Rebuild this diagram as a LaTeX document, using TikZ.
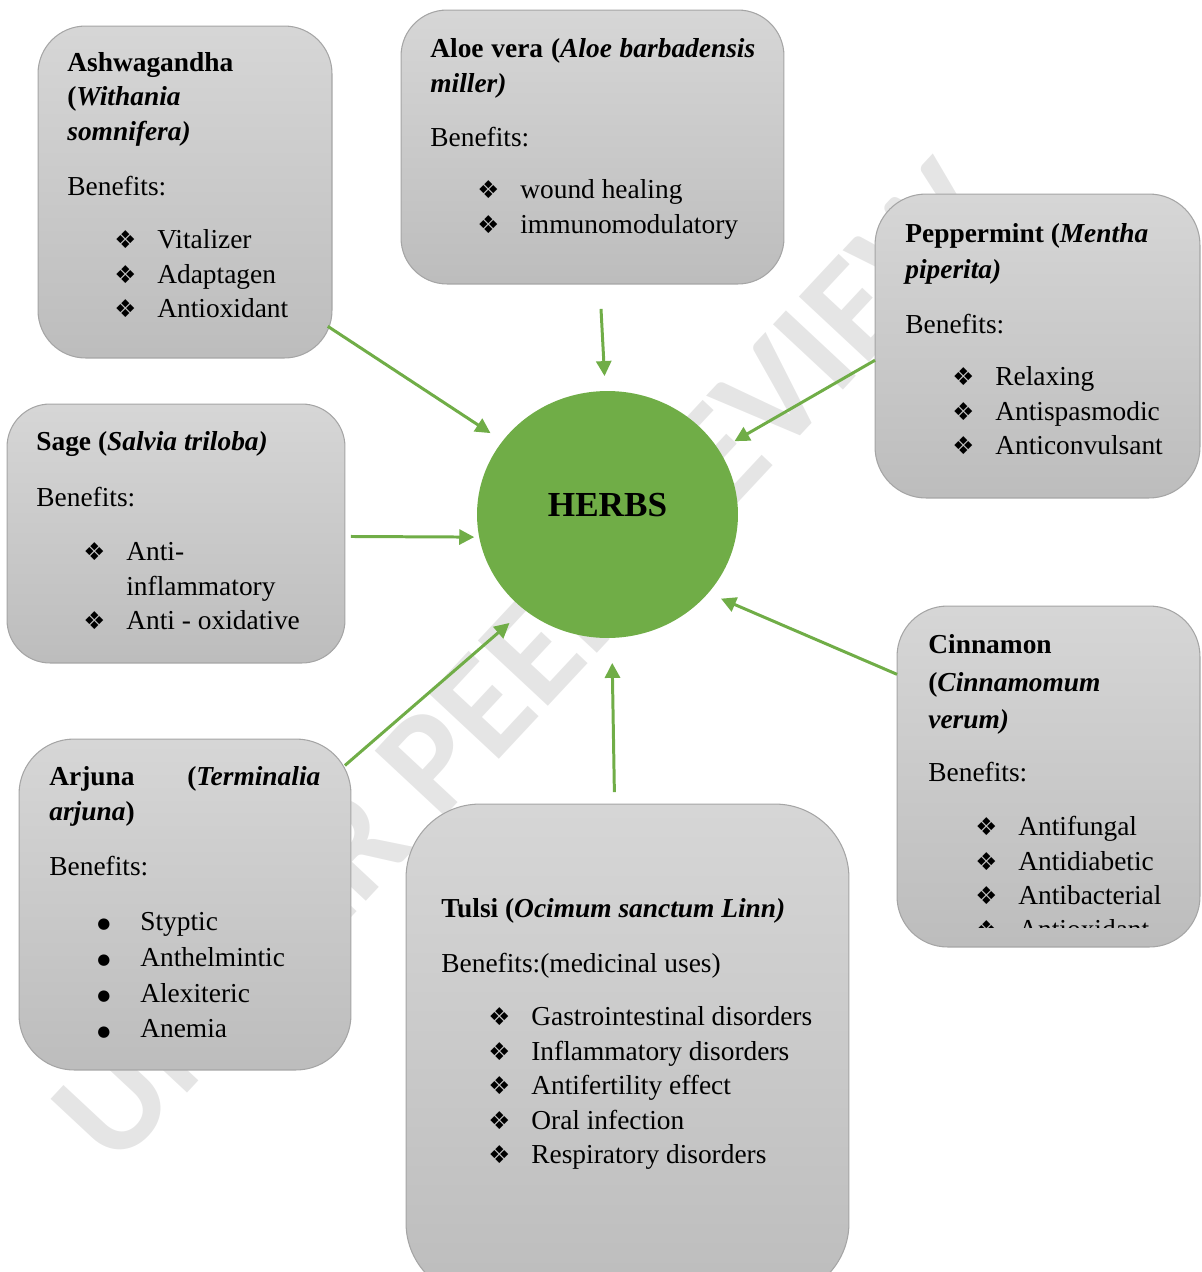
\documentclass[tikz,border=0pt]{standalone}
\usepackage{fontspec}
\setmainfont{Liberation Serif}
\newfontfamily\symfont{DejaVu Sans}
\newfontfamily\markfont{Carlito}
\usetikzlibrary{positioning,arrows.meta,shapes.geometric}
\definecolor{herbgreen}{RGB}{112,173,71}
\definecolor{boxline}{RGB}{165,165,165}
\tikzset{
    x=0.02cm,
    y=-0.02cm,
    herbbox/.style = {
        draw=boxline,
        shape=rectangle,
        line width=0.6pt,
        rounded corners=0.95cm,
        top color=black!16,
        bottom color=black!26,
        inner sep=0pt,
        outer sep=0pt
    },
    herbtext/.style = {
        anchor=north west,
        inner sep=0pt,
        align=left,
        font=\fontsize{15.6}{19.6}\selectfont
    },
    link/.style = {
        draw=herbgreen,
        line width=1.7pt,
        ->
    },
    >={Triangle[length=0.3cm,width=0.3cm]},
}
% first line strut, list items
\newcommand{\fl}{\rule{0pt}{0.5cm}}
\newcommand{\itm}[1]{\hspace*{0.94cm}\makebox[0.86cm][l]{\symfont\fontsize{14}{14}\selectfont ❖}#1}
\newcommand{\bitm}[1]{\hspace*{0.96cm}\makebox[0.86cm][l]{\raisebox{0.03cm}{\symfont\fontsize{8.5}{8.5}\selectfont ●}}#1}

\begin{document}
\begin{tikzpicture}
    \useasboundingbox (0,0) rectangle (1201,1272);
    \clip (0,0) rectangle (1201,1272);

    \node[rotate=47, text=black!10, font=\markfont\bfseries\fontsize{84}{84}\selectfont] (mark) at (525,662) {UNDER PEER REVIEW};

    \node[herbbox, minimum width=5.88cm, minimum height=6.64cm] (ashwa) at (185,192) {};
    \node[herbbox, minimum width=7.66cm, minimum height=5.48cm, rounded corners=0.92cm] (aloe) at (592.5,147) {};
    \node[herbbox, minimum width=6.5cm, minimum height=6.08cm, rounded corners=1.02cm] (pepper) at (1037.5,346) {};
    \node[herbbox, minimum width=6.76cm, minimum height=5.18cm, rounded corners=0.86cm] (sage) at (176,533.5) {};
    \node[herbbox, minimum width=6.06cm, minimum height=6.82cm, rounded corners=1.01cm] (cinna) at (1048.5,776.5) {};
    \node[herbbox, minimum width=6.64cm, minimum height=6.62cm, rounded corners=1.1cm] (arjuna) at (185,904.5) {};
    \node[herbbox, minimum width=8.86cm, minimum height=9.86cm, rounded corners=1.48cm] (tulsi) at (627.5,1050.5) {};
    \node[ellipse, fill=herbgreen, minimum width=5.22cm, minimum height=4.94cm, inner sep=0pt, outer sep=0pt] (herbs) at (607.5,514.5) {};
    \node[font=\fontsize{20}{20}\selectfont\bfseries] (herbslabel) at ([yshift=0.19cm]herbs.center) {HERBS};

    \node[herbtext] (ashwatext) at (67,46) {\fl\textbf{Ashwagandha}\\
        \textbf{(\textit{Withania}}\\
        \textbf{\textit{somnifera)}}\\[0.41cm]
        Benefits:\\[0.38cm]
        \itm{Vitalizer}\\
        \itm{Adaptagen}\\
        \itm{Antioxidant}};
    \node[herbtext] (aloetext) at (430,32) {\fl\makebox[6.5cm][s]{\textbf{Aloe vera (\textit{Aloe barbadensis}}}\\[0.02cm]
        \textbf{\textit{miller)}}\\[0.39cm]
        Benefits:\\[0.35cm]
        \itm{wound healing}\\
        \itm{immunomodulatory}};
    \node[herbtext] (peppertext) at (905,217) {\fl\textbf{Peppermint (\textit{Mentha}}\\[0.03cm]
        \textbf{\textit{piperita)}}\\[0.41cm]
        Benefits:\\[0.36cm]
        \itm{Relaxing}\\
        \itm{Antispasmodic}\\
        \itm{Anticonvulsant}};
    \node[herbtext] (sagetext) at (36,425) {\fl\textbf{Sage (\textit{Salvia triloba)}}\\[0.43cm]
        Benefits:\\[0.4cm]
        \itm{Anti-}\\
        \hspace*{1.8cm}inflammatory\\
        \itm{Anti - oxidative}};
    \begin{scope}
        \clip (880,600) rectangle (1201,927);
        \node[herbtext] (cinnatext) at (928,628) {\fl\textbf{Cinnamon}\\[0.08cm]
            \textbf{(\textit{Cinnamomum}}\\[0.04cm]
            \textbf{\textit{verum)}}\\[0.37cm]
            Benefits:\\[0.4cm]
            \itm{Antifungal}\\
            \itm{Antidiabetic}\\
            \itm{Antibacterial}\\
            \itm{Antioxidant}};
    \end{scope}
    \node[herbtext] (arjunatext) at (49,760) {\fl\makebox[5.42cm][s]{\textbf{Arjuna (\textit{Terminalia}}}\\[0.02cm]
        \textbf{\textit{arjuna})}\\[0.41cm]
        Benefits:\\[0.4cm]
        \bitm{Styptic}\\[0.03cm]
        \bitm{Anthelmintic}\\[0.03cm]
        \bitm{Alexiteric}\\[0.03cm]
        \bitm{Anemia}};
    \node[herbtext] (tulsitext) at (441,892) {\fl\textbf{Tulsi (\textit{Ocimum sanctum Linn)}}\\[0.41cm]
        Benefits:(medicinal uses)\\[0.38cm]
        \itm{Gastrointestinal disorders}\\
        \itm{Inflammatory disorders}\\
        \itm{Antifertility effect}\\
        \itm{Oral infection}\\
        \itm{Respiratory disorders}};

    \path[link, shorten <=-0.1cm, shorten >=0.29cm] (ashwa.-43) -- (herbs.145);
    \path[link, shorten <=0.5cm, shorten >=0.3cm] (aloe.-87.3) -- (herbs.91.9);
    \path[link, shorten >=0.36cm] (pepper.-175.4) -- (herbs.30.5);
    \path[link, shorten <=0.12cm, shorten >=0.1cm] (sage.-1.5) -- (herbs.190);
    \path[link, shorten >=0.28cm] (cinna.146.4) -- (herbs.-38.4);
    \path[link, shorten <=-0.16cm, shorten >=0.4cm] (arjuna.41.3) -- (herbs.229.9);
    \path[link, shorten <=0.24cm, shorten >=0.5cm] (tulsi.93.8) -- (herbs.-88.3);
\end{tikzpicture}
\end{document}
